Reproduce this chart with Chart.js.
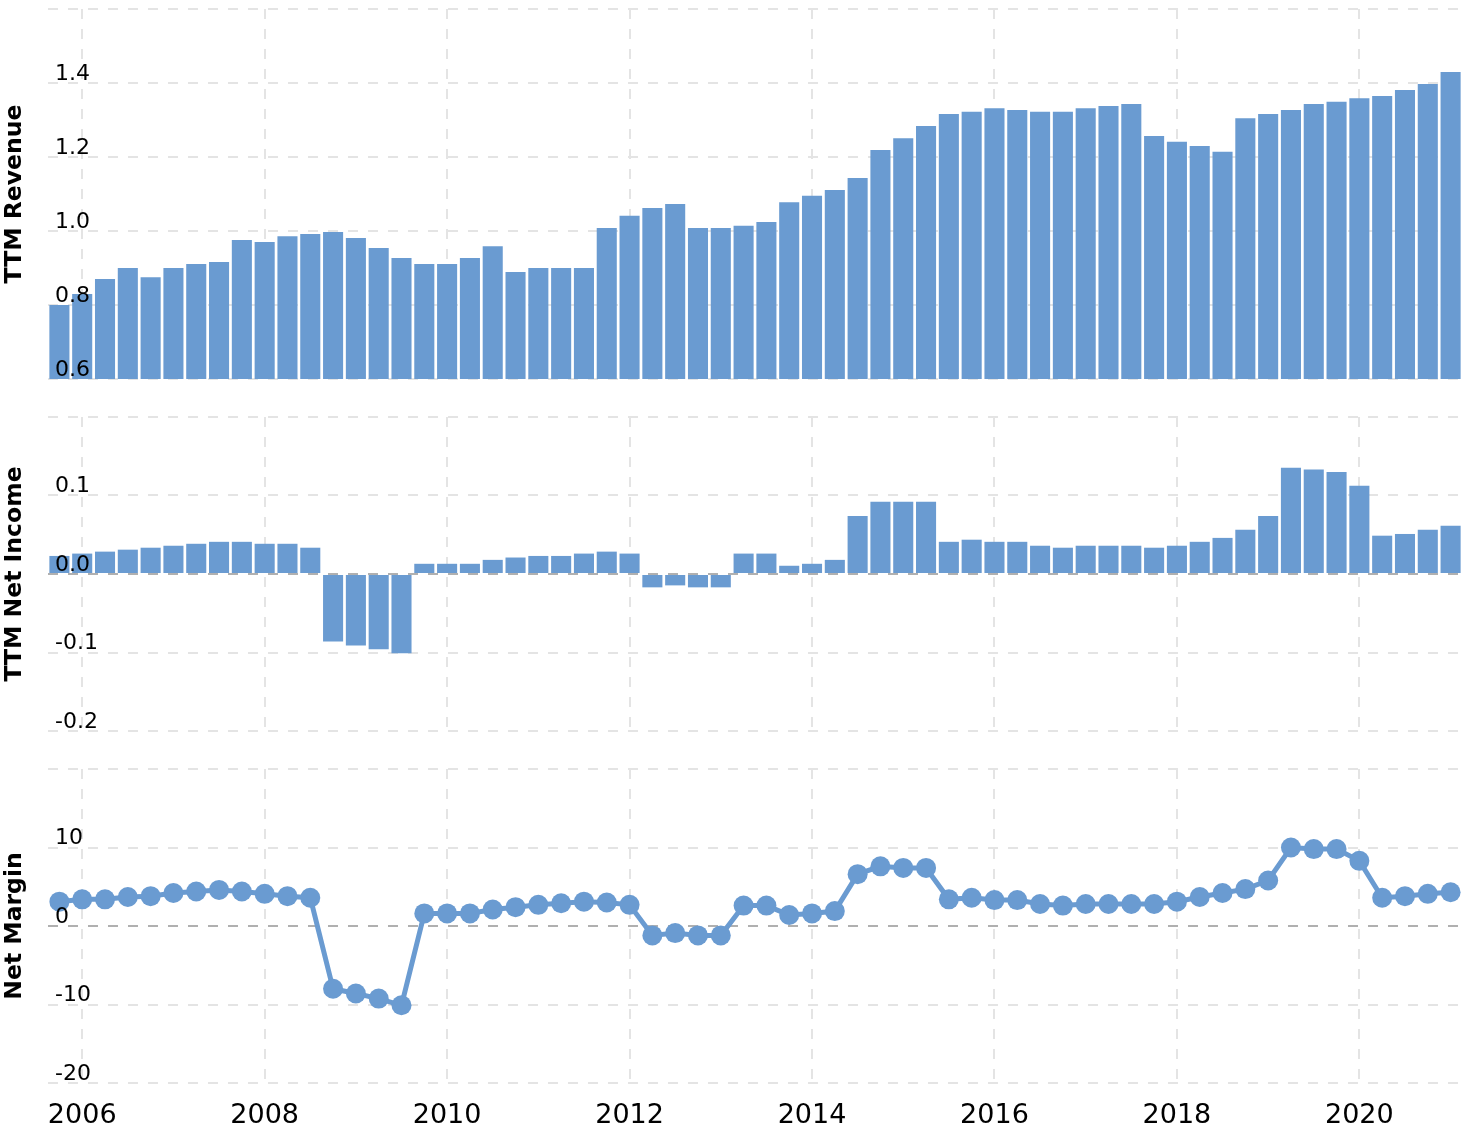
<!DOCTYPE html>
<html>
<head>
<meta charset="utf-8">
<script src="https://cdn.jsdelivr.net/npm/chart.js@4.4.1/dist/chart.umd.min.js"></script>
<style>
  html, body { margin: 0; padding: 0; background: #fff; }
  body { width: 1472px; height: 1128px; position: relative; overflow: hidden; }
  .panel { position: absolute; left: 0; width: 1472px; }
</style>
</head>
<body>
<div class="panel" style="top:0;height:390px"><canvas id="revenue"></canvas></div>
<div class="panel" style="top:400px;height:340px"><canvas id="income"></canvas></div>
<div class="panel" style="top:750px;height:378px"><canvas id="margin"></canvas></div>
<script>
const quarters = [
  '2005-09-30', '2005-12-31',
  '2006-03-31', '2006-06-30', '2006-09-30', '2006-12-31',
  '2007-03-31', '2007-06-30', '2007-09-30', '2007-12-31',
  '2008-03-31', '2008-06-30', '2008-09-30', '2008-12-31',
  '2009-03-31', '2009-06-30', '2009-09-30', '2009-12-31',
  '2010-03-31', '2010-06-30', '2010-09-30', '2010-12-31',
  '2011-03-31', '2011-06-30', '2011-09-30', '2011-12-31',
  '2012-03-31', '2012-06-30', '2012-09-30', '2012-12-31',
  '2013-03-31', '2013-06-30', '2013-09-30', '2013-12-31',
  '2014-03-31', '2014-06-30', '2014-09-30', '2014-12-31',
  '2015-03-31', '2015-06-30', '2015-09-30', '2015-12-31',
  '2016-03-31', '2016-06-30', '2016-09-30', '2016-12-31',
  '2017-03-31', '2017-06-30', '2017-09-30', '2017-12-31',
  '2018-03-31', '2018-06-30', '2018-09-30', '2018-12-31',
  '2019-03-31', '2019-06-30', '2019-09-30', '2019-12-31',
  '2020-03-31', '2020-06-30', '2020-09-30', '2020-12-31'
];

// TTM revenue
const revenue = [
  0.80, 0.83,
  0.87, 0.90, 0.875, 0.90,
  0.911, 0.916, 0.976, 0.970,
  0.986, 0.992, 0.997, 0.981,
  0.954, 0.927, 0.911, 0.911,
  0.927, 0.959, 0.889, 0.90,
  0.90, 0.90, 1.008, 1.041,
  1.062, 1.073, 1.008, 1.008,
  1.014, 1.024, 1.078, 1.095,
  1.111, 1.143, 1.219, 1.251,
  1.284, 1.316, 1.322, 1.332,
  1.327, 1.322, 1.322, 1.332,
  1.338, 1.343, 1.257, 1.241,
  1.230, 1.214, 1.305, 1.316,
  1.327, 1.343, 1.349, 1.359,
  1.365, 1.381, 1.397, 1.430
];

// TTM net income
const netIncome = [
  0.023, 0.026,
  0.0285, 0.031, 0.0335, 0.036,
  0.0385, 0.041, 0.041, 0.0385,
  0.0385, 0.0335, -0.086, -0.091,
  -0.096, -0.101, 0.013, 0.013,
  0.013, 0.018, 0.021, 0.023,
  0.023, 0.026, 0.0285, 0.026,
  -0.017, -0.0145, -0.017, -0.017,
  0.026, 0.026, 0.0105, 0.013,
  0.018, 0.074, 0.092, 0.092,
  0.092, 0.041, 0.0437, 0.041,
  0.041, 0.036, 0.0335, 0.036,
  0.036, 0.036, 0.0335, 0.036,
  0.041, 0.046, 0.0565, 0.074,
  0.1355, 0.133, 0.130, 0.1125,
  0.0488, 0.051, 0.0565, 0.0615
];

// net margin (%)
const netMargin = [
  3.1, 3.4,
  3.4, 3.7, 3.8, 4.2,
  4.4, 4.6, 4.4, 4.1,
  3.8, 3.6, -8.0, -8.6,
  -9.25, -10.1, 1.6, 1.6,
  1.6, 2.1, 2.4, 2.7,
  2.9, 3.1, 3.0, 2.7,
  -1.2, -0.9, -1.2, -1.2,
  2.6, 2.6, 1.4, 1.6,
  1.9, 6.6, 7.6, 7.4,
  7.4, 3.4, 3.6, 3.3,
  3.3, 2.8, 2.6, 2.8,
  2.8, 2.8, 2.8, 3.1,
  3.7, 4.2, 4.7, 5.8,
  10.0, 9.8, 9.8, 8.3,
  3.6, 3.8, 4.1, 4.3
];

const FONT = '"DejaVu Sans", Verdana, sans-serif';
const BLUE = '#6a9bd1';
const GRID = '#e4e4e4';
const ZERO = '#b0b0b0';

// year label sits on the Dec-31 quarter just before an even year
function yearLabel(i) {
  const d = quarters[i];
  if (!d) return null;
  const y = +d.slice(0, 4);
  if (d.slice(5, 7) === '12' && (y + 1) % 2 === 0) return String(y + 1);
  return null;
}

function xAxis(showLabels) {
  return {
    type: 'category',
    offset: true,
    afterBuildTicks: s => {
      s.ticks = s.ticks.filter(t => yearLabel(t.value));
    },
    grid: { offset: false, drawTicks: false, lineWidth: 2, color: GRID },
    border: { display: false, dash: [10, 10] },
    ticks: {
      display: showLabels,
      autoSkip: false,
      maxRotation: 0,
      padding: 17,
      color: '#000',
      font: { family: FONT, size: 27 },
      callback: v => yearLabel(v)
    },
    afterFit: s => {
      s.paddingLeft = 0;
      s.paddingRight = 0;
      s.height = showLabels ? 45 : 0;
    }
  };
}

function yAxis(title, min, max, step, fmt, zeroLine) {
  return {
    min: min,
    max: max,
    ticks: {
      stepSize: step,
      mirror: true,
      padding: 7,
      labelOffset: -9,
      z: 1,
      color: '#000',
      font: { family: FONT, size: 22 },
      callback: v => Math.abs(v - max) < 1e-9 ? '' : fmt(v)
    },
    grid: {
      drawTicks: false,
      lineWidth: 2,
      color: ctx => (zeroLine && ctx.tick && Math.abs(ctx.tick.value) < 1e-9) ? ZERO : GRID
    },
    border: { display: false, dash: [10, 10] },
    title: {
      display: true,
      text: title,
      color: '#000',
      font: { family: FONT, size: 23.5, weight: 'bold' },
      padding: { top: 1, bottom: 0 }
    },
    afterFit: s => {
      s.width = 48;
      s.paddingTop = 0;
      s.paddingBottom = 0;
    }
  };
}

function baseOptions(pad, showX, y) {
  return {
    responsive: true,
    maintainAspectRatio: false,
    animation: false,
    layout: { padding: pad },
    plugins: { legend: { display: false }, tooltip: { enabled: false } },
    scales: { x: xAxis(showX), y: y }
  };
}

new Chart(document.getElementById('revenue'), {
  type: 'bar',
  data: {
    labels: quarters,
    datasets: [{
      data: revenue,
      backgroundColor: BLUE,
      barPercentage: 0.88,
      categoryPercentage: 1.0
    }]
  },
  options: baseOptions({ top: 9, bottom: 11, left: 0, right: 10 }, false,
    yAxis('TTM Revenue', 0.6, 1.6, 0.2, v => v.toFixed(1), false))
});

new Chart(document.getElementById('income'), {
  type: 'bar',
  data: {
    labels: quarters,
    datasets: [{
      data: netIncome,
      backgroundColor: BLUE,
      barPercentage: 0.88,
      categoryPercentage: 1.0
    }]
  },
  options: baseOptions({ top: 17, bottom: 9, left: 0, right: 10 }, false,
    yAxis('TTM Net Income', -0.2, 0.2, 0.1, v => (Math.abs(v) < 1e-9 ? 0 : v).toFixed(1), true))
});

new Chart(document.getElementById('margin'), {
  type: 'line',
  data: {
    labels: quarters,
    datasets: [{
      data: netMargin,
      borderColor: BLUE,
      borderWidth: 5,
      backgroundColor: BLUE,
      pointBackgroundColor: BLUE,
      pointBorderWidth: 0,
      pointRadius: 10,
      tension: 0
    }]
  },
  options: baseOptions({ top: 19, bottom: 0, left: 0, right: 10 }, true,
    yAxis('Net Margin', -20, 20, 10, v => String(Math.round(v)), true))
});
</script>
</body>
</html>
